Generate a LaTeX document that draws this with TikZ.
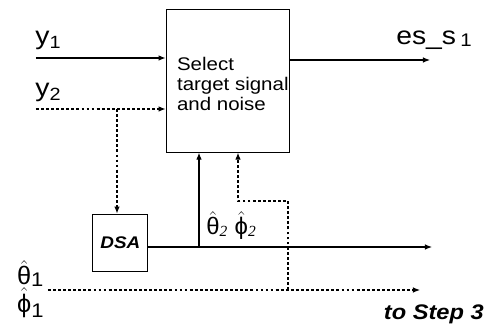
\documentclass[tikz,border=0pt]{standalone}
\usepackage{fontspec}
\setmainfont[FakeStretch=1.12]{Liberation Sans}
\newfontfamily\grkfont{Liberation Sans}
\newfontfamily\subfont{Liberation Serif}
\newcommand{\hatgr}[1]{$\hat{\mbox{\grkfont #1}}$}
\usetikzlibrary{positioning,arrows.meta}
\tikzset{
  blk/.style={draw,thick,inner sep=0pt},
  sig/.style={thick,-{Latex[length=5pt,width=4pt]}},
  dsig/.style={sig,dash pattern=on 2pt off 1.6pt},
  lbl/.style={font=\fontsize{18}{18}\selectfont,inner sep=0pt,anchor=base west}
}
\begin{document}
\begin{tikzpicture}
\useasboundingbox (0,0) rectangle (12.225,8.225);
% blocks
\node[blk,minimum width=3.075cm,minimum height=3.575cm] (sel) at (5.69,6.21) {};
\node[align=left,anchor=north west,font=\fontsize{13}{14.2}\selectfont,inner sep=0pt] (seltxt) at (4.42,6.8) {Select\\target signal\\and noise};
\node[blk,minimum width=1.375cm,minimum height=1.425cm,font=\bfseries\itshape\fontsize{12}{12}\selectfont] (dsa) at (3.01,2.16) {DSA};
% inputs
\coordinate (y1s) at (0.9,6.775);
\coordinate (y2s) at (0.9,5.5);
\node[lbl] (y1) at (0.88,7.1) {y\textsubscript{1}};
\node[lbl] (y2) at (0.88,5.8) {y\textsubscript{2}};
\draw[sig] (y1s) -- (y1s -| sel.west);
\draw[dsig] (y2s) -- (y2s -| sel.west);
\coordinate (br) at (2.925,5.5);
\draw[dsig] (br) -- (br |- dsa.north);
% output
\coordinate (esend) at (10.75,6.725);
\draw[sig] (esend -| sel.east) -- (esend);
\node[lbl] (es) at (9.9,7.1) {es\_s\,\raisebox{-1pt}{\fontsize{13}{13}\selectfont 1}};
% DSA output
\coordinate (dout) at (10.8,2.05);
\coordinate (up) at (4.975,2.05);
\draw[sig] (dout -| dsa.east) -- (dout);
\draw[sig] (up) -- (up |- sel.south);
\node[anchor=base west,inner sep=0pt,font=\fontsize{17}{17}\selectfont] (th2) at (5.15,2.35)
  {\hatgr{θ}\raisebox{-1pt}{\subfont\itshape\fontsize{11}{11}\selectfont 2} \hatgr{ϕ}\raisebox{-1pt}{\subfont\itshape\fontsize{11}{11}\selectfont 2}};
% from step 1
\coordinate (fbs) at (1.2,0.975);
\coordinate (fbe) at (10.5,0.975);
\coordinate (fbk) at (7.2,0.975);
\coordinate (fbt) at (7.2,3.2);
\coordinate (fbl) at (5.95,3.2);
\draw[dsig] (fbs) -- (fbe);
\draw[dsig] (fbk) -- (fbt) -- (fbl) -- (fbl |- sel.south);
\node[lbl] (th1) at (0.42,1.1) {\hatgr{θ}\raisebox{-1pt}{\fontsize{14}{14}\selectfont 1}};
\node[lbl] (ph1) at (0.42,0.42) {\hatgr{ϕ}\raisebox{-4pt}{\fontsize{14}{14}\selectfont 1}};
\node[font=\bfseries\itshape\fontsize{15}{15}\selectfont,anchor=base east,inner sep=0pt] (step) at (12.1,0.225) {to Step 3};
\end{tikzpicture}
\end{document}
